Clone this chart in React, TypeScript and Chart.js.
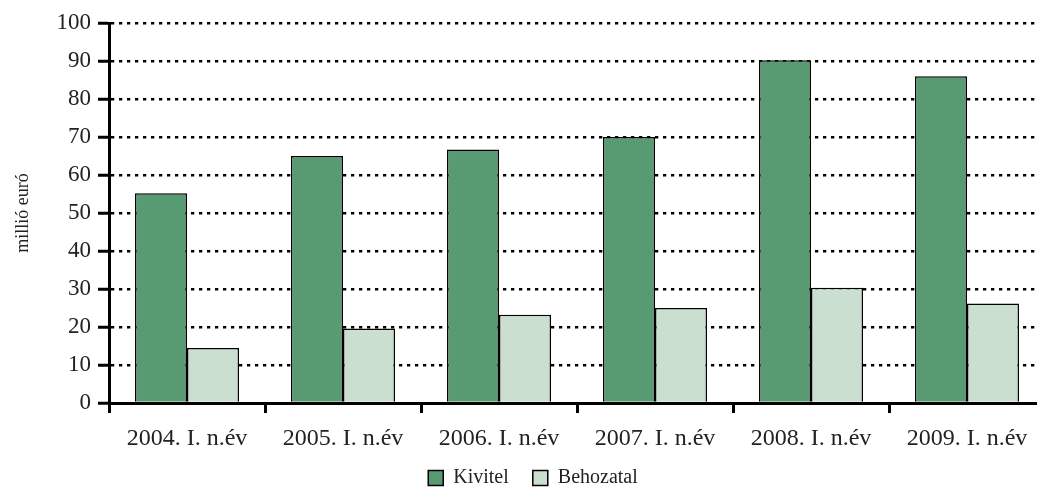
import { useEffect, useRef } from 'react';
import { Chart, registerables } from 'chart.js';

Chart.register(...registerables);

const categories = ['2004. I. n.év', '2005. I. n.év', '2006. I. n.év', '2007. I. n.év', '2008. I. n.év', '2009. I. n.év'];
const kivitel = [55.2, 65, 66.7, 70, 90.2, 86];
const behozatal = [14.5, 19.6, 23.2, 25, 30.3, 26.2];
const yAxisTitle = 'millió euró';
const seriesNames = ['Kivitel', 'Behozatal'];

const FONT = "'Liberation Serif', 'Times New Roman', serif";

const unclipXLabels = {
  id: 'unclipXLabels',
  afterLayout(chart: any) {
    const x = chart.scales.x;
    if (x) x.bottom = x.top + 60;
  },
};

export default function App() {
  const ref = useRef<HTMLCanvasElement | null>(null);

  useEffect(() => {
    if (!ref.current) return;
    const chart = new Chart(ref.current, {
      type: 'bar',
      data: {
        labels: categories,
        datasets: [
          {
            label: seriesNames[0],
            data: kivitel,
            backgroundColor: '#589a71',
            borderColor: '#000000',
            borderWidth: 1.5,
            categoryPercentage: 0.667,
            barPercentage: 1,
          },
          {
            label: seriesNames[1],
            data: behozatal,
            backgroundColor: '#cbdfd1',
            borderColor: '#000000',
            borderWidth: 1.5,
            categoryPercentage: 0.667,
            barPercentage: 1,
          },
        ],
      },
      plugins: [unclipXLabels],
      options: {
        responsive: false,
        animation: false,
        layout: { padding: { left: 21, right: 1, top: 23, bottom: -10 } },
        plugins: {
          tooltip: { enabled: false },
          legend: {
            position: 'bottom',
            labels: {
              boxWidth: 15,
              boxHeight: 15,
              padding: 24,
              color: '#222',
              font: { family: FONT, size: 20 },
            },
          },
        },
        scales: {
          x: {
            afterFit: (s: any) => { s.height = 41; },
            grid: {
              offset: true,
              drawOnChartArea: false,
              drawTicks: true,
              tickLength: 10,
              tickWidth: 3,
              tickColor: '#000',
            },
            border: { display: true, color: '#000', width: 3 },
            ticks: {
              color: '#222',
              padding: 11,
              maxRotation: 0,
              font: { family: FONT, size: 24 },
            },
          },
          y: {
            min: 0,
            max: 100,
            afterFit: (s: any) => { s.width = 88; },
            ticks: {
              stepSize: 10,
              color: '#222',
              padding: 7,
              font: { family: FONT, size: 23 },
            },
            grid: {
              color: '#000',
              lineWidth: 2.5,
              drawTicks: true,
              tickLength: 11,
              tickWidth: 3,
              tickColor: '#000',
              tickBorderDash: [],
            },
            border: { display: true, color: '#000', width: 3, dash: [3.3, 4.7] },
            title: {
              display: true,
              text: yAxisTitle,
              color: '#222',
              padding: { top: -9, bottom: 0 },
              font: { family: FONT, size: 18 },
            },
          },
        },
      },
    });
    return () => chart.destroy();
  }, []);

  return (
    <div style={{ position: 'absolute', left: 0, top: 0, width: 1037, height: 488, overflow: 'hidden', background: '#fff' }}>
      <canvas ref={ref} width={1046} height={488} style={{ display: 'block', width: 1046, height: 488 }} />
    </div>
  );
}
